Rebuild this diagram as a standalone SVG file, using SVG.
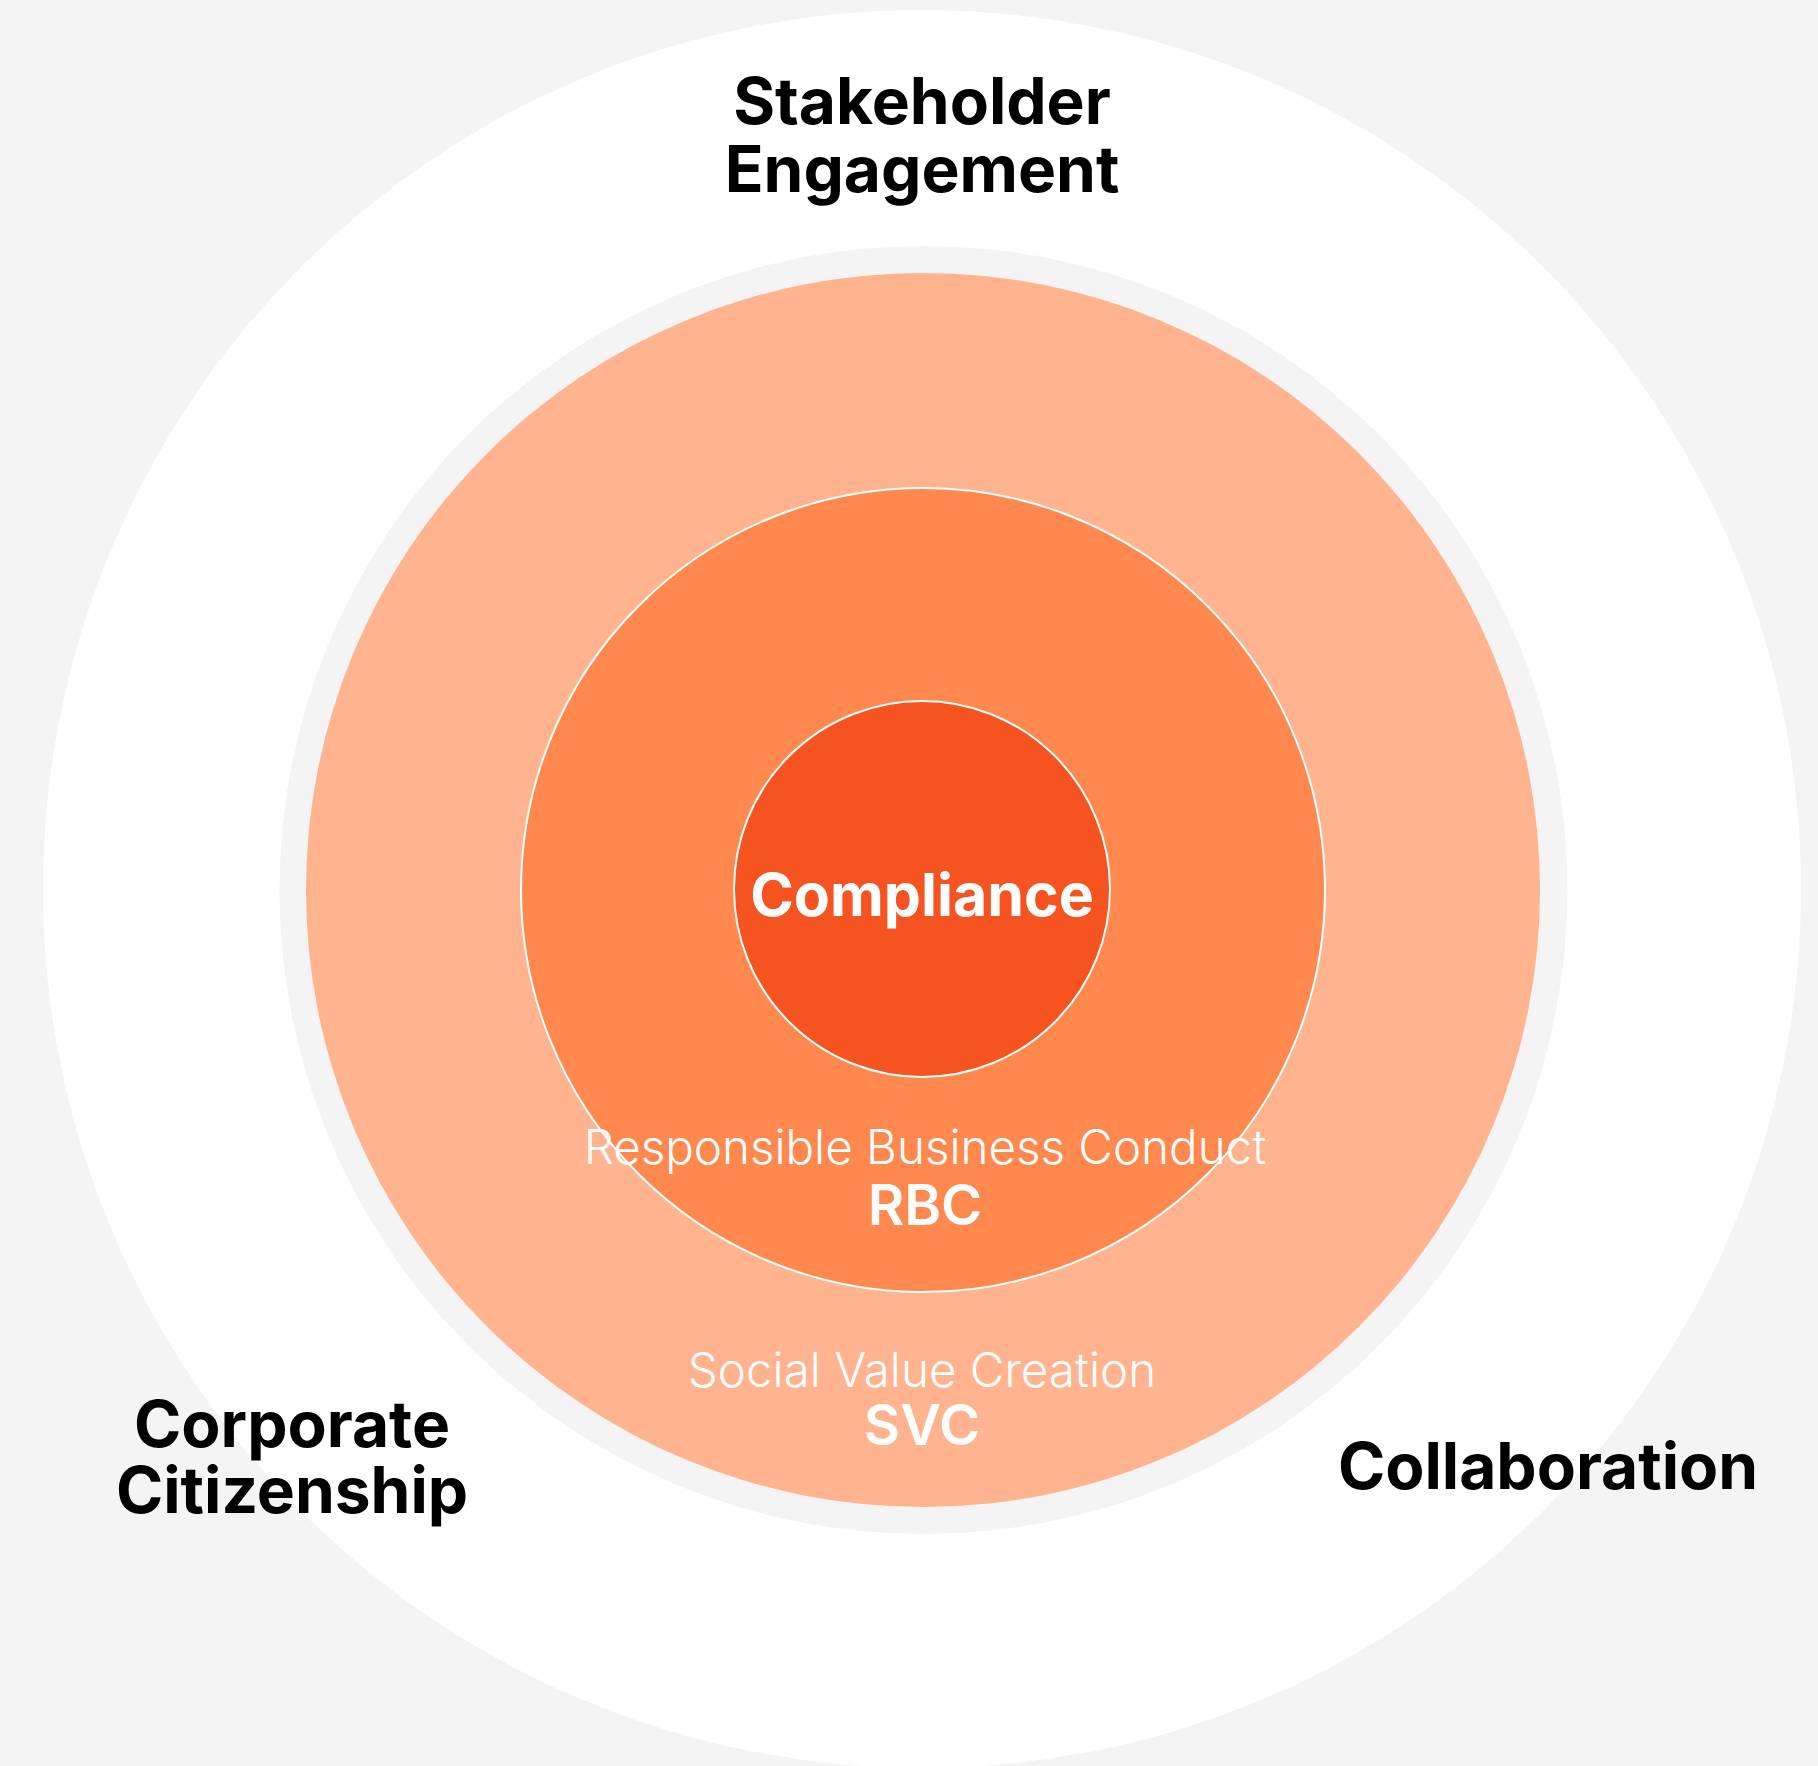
<svg xmlns="http://www.w3.org/2000/svg" width="1818" height="1766" viewBox="0 0 1818 1766">
<style>
.lbl{font-family:Inter,"Open Sans","Liberation Sans",sans-serif;font-weight:700;fill:#000;font-size:64px;text-anchor:middle}
.wt{font-family:Inter,"Open Sans","Liberation Sans",sans-serif;fill:#fff;text-anchor:middle}
.light{font-weight:300;font-size:47.5px}
.abbr{font-weight:600;font-size:56px}
</style>
<rect width="1818" height="1766" fill="#f4f4f4"/>
<g id="outer">
<circle cx="922" cy="889" r="879" fill="#ffffff"/>
<circle cx="923.5" cy="890" r="644" fill="#f4f4f4"/>
</g>
<g id="svc">
<circle cx="923" cy="890" r="617" fill="#ffb38e"/>
</g>
<g id="rbc">
<circle cx="923" cy="890" r="402" fill="#ff884e" stroke="#ffffff" stroke-width="2"/>
</g>
<g id="compliance">
<circle cx="922" cy="889" r="188" fill="#f55320" stroke="#ffffff" stroke-width="2"/>
<text class="wt" x="922" y="916" font-size="59" font-weight="700">Compliance</text>
</g>
<g id="rbc-label">
<text class="wt light" x="925" y="1164">Responsible Business Conduct</text>
<text class="wt abbr" x="925" y="1225">RBC</text>
</g>
<g id="svc-label">
<text class="wt light" x="922" y="1387">Social Value Creation</text>
<text class="wt abbr" x="922" y="1445">SVC</text>
</g>
<g id="stakeholder">
<text class="lbl" x="922" y="124">Stakeholder</text>
<text class="lbl" x="922" y="192">Engagement</text>
</g>
<g id="citizenship">
<text class="lbl" x="292" y="1447">Corporate</text>
<text class="lbl" x="292" y="1513">Citizenship</text>
</g>
<g id="collaboration">
<text class="lbl" x="1548" y="1489">Collaboration</text>
</g>
<g id="connectors"></g>
</svg>
